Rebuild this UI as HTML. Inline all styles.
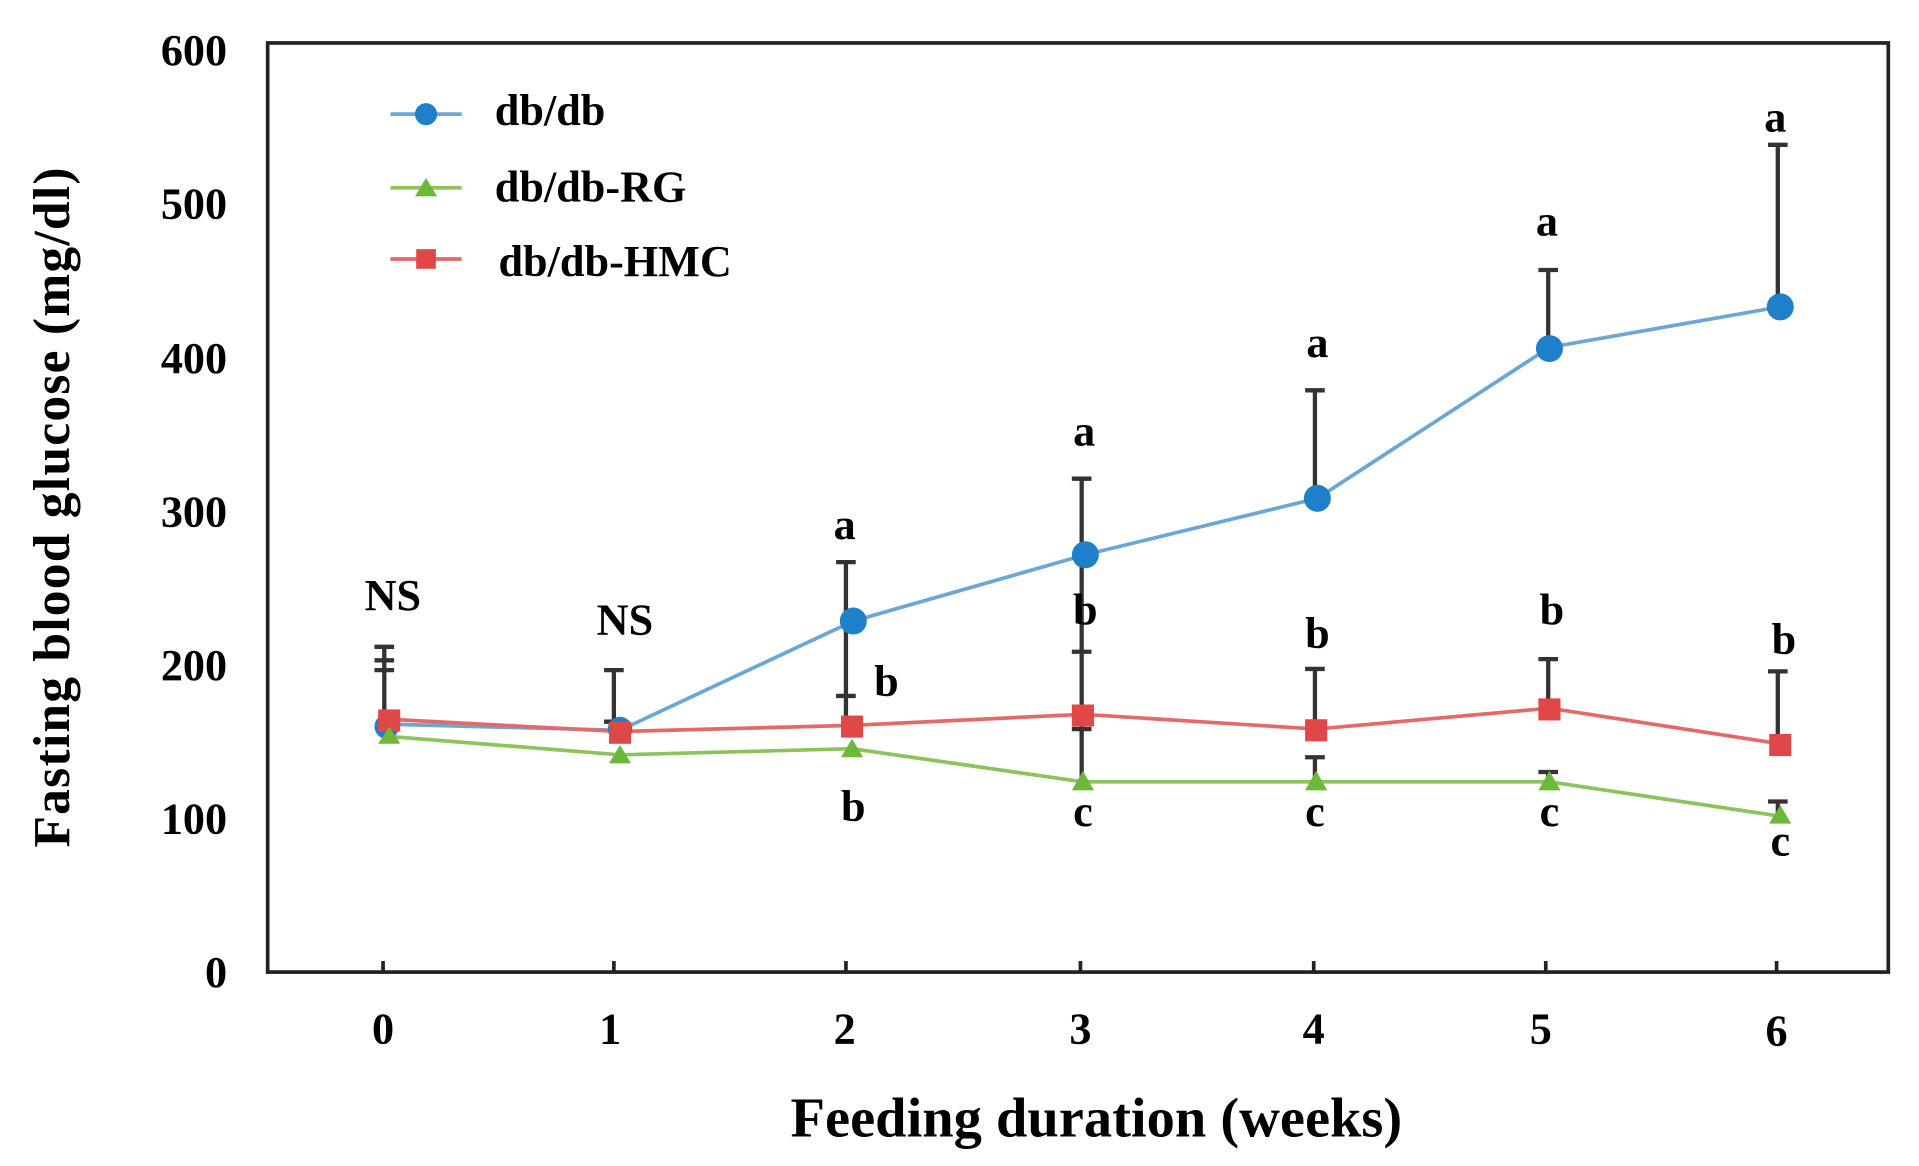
<!DOCTYPE html>
<html><head><style>html,body{margin:0;padding:0;background:#fff;}svg{display:block}</style></head>
<body>
<svg width="1919" height="1166" viewBox="0 0 1563 950" preserveAspectRatio="none" xmlns="http://www.w3.org/2000/svg" font-family="Liberation Serif, serif" font-weight="bold">
<rect x="218" y="35" width="1320" height="757" fill="none" stroke="#222" stroke-width="3"/>
<g font-size="36" text-anchor="end" fill="#000">
<text x="185" y="53" transform="scale(1 1)">600</text><text x="185" y="178">500</text><text x="185" y="304">400</text>
<text x="185" y="429">300</text><text x="185" y="554">200</text><text x="185" y="679">100</text><text x="185" y="804">0</text>
</g>
<g stroke="#222" stroke-width="3">
<line x1="312" y1="792" x2="312" y2="783"/><line x1="500" y1="792" x2="500" y2="783"/><line x1="689" y1="792" x2="689" y2="783"/><line x1="880" y1="792" x2="880" y2="783"/><line x1="1070" y1="792" x2="1070" y2="783"/><line x1="1259" y1="792" x2="1259" y2="783"/><line x1="1447" y1="792" x2="1447" y2="783"/>
</g>
<g font-size="36" text-anchor="middle">
<text x="312" y="850">0</text><text x="497" y="850">1</text><text x="688" y="850">2</text><text x="880" y="850">3</text><text x="1070" y="850">4</text><text x="1255" y="850">5</text><text x="1447" y="852">6</text>
</g>
<text x="893" y="926" font-size="46" text-anchor="middle">Feeding duration (weeks)</text>
<text transform="translate(56,413) rotate(-90)" font-size="42" text-anchor="middle" letter-spacing="1">Fasting blood glucose (mg/dl)</text>
<g stroke="#333" stroke-width="3.5">
<line x1="313" y1="527" x2="313" y2="595"/><line x1="305" y1="527" x2="321" y2="527"/><line x1="305" y1="538" x2="321" y2="538"/><line x1="305" y1="546" x2="321" y2="546"/>
<line x1="500" y1="546" x2="500" y2="595"/><line x1="492" y1="546" x2="508" y2="546"/><line x1="492" y1="588" x2="508" y2="588"/>
<line x1="689" y1="458" x2="689" y2="600"/><line x1="681" y1="458" x2="697" y2="458"/><line x1="681" y1="567" x2="697" y2="567"/>
<line x1="881" y1="390" x2="881" y2="636"/><line x1="873" y1="390" x2="889" y2="390"/><line x1="873" y1="531" x2="889" y2="531"/><line x1="873" y1="594" x2="889" y2="594"/>
<line x1="1071" y1="318" x2="1071" y2="406"/><line x1="1071" y1="545" x2="1071" y2="594"/><line x1="1071" y1="617" x2="1071" y2="637"/><line x1="1063" y1="318" x2="1079" y2="318"/><line x1="1063" y1="545" x2="1079" y2="545"/><line x1="1063" y1="617" x2="1079" y2="617"/>
<line x1="1261" y1="220" x2="1261" y2="283"/><line x1="1261" y1="537" x2="1261" y2="577"/><line x1="1261" y1="629" x2="1261" y2="637"/><line x1="1253" y1="220" x2="1269" y2="220"/><line x1="1253" y1="537" x2="1269" y2="537"/><line x1="1253" y1="629" x2="1269" y2="629"/>
<line x1="1448" y1="118" x2="1448" y2="250"/><line x1="1448" y1="547" x2="1448" y2="606"/><line x1="1448" y1="653" x2="1448" y2="665"/><line x1="1440" y1="118" x2="1456" y2="118"/><line x1="1440" y1="547" x2="1456" y2="547"/><line x1="1440" y1="653" x2="1456" y2="653"/>
</g>
<polyline fill="none" stroke="#6aa6d6" stroke-width="3" points="315,590 505,595 695,506 884,452 1073,406 1262,283 1450,250"/>
<polyline fill="none" stroke="#8cc35a" stroke-width="3" points="317,600 505,615 694,610 882,637 1072,637 1262,637 1450,665"/>
<polyline fill="none" stroke="#e46a6a" stroke-width="3" points="317,586 505,596 694,591 882,582 1072,594 1262,577 1450,606"/>
<g fill="#1f7fc8">
<circle cx="315" cy="592" r="10"/><circle cx="505" cy="594" r="10"/><circle cx="695" cy="506" r="11"/><circle cx="884" cy="452" r="11"/><circle cx="1073" cy="406" r="11"/><circle cx="1262" cy="284" r="11"/><circle cx="1450" cy="250" r="11"/>
</g>
<g fill="#e04848">
<rect x="308" y="578" width="18" height="18"/><rect x="496" y="588" width="18" height="18"/><rect x="685" y="583" width="18" height="18"/><rect x="873" y="574" width="18" height="18"/><rect x="1063" y="586" width="18" height="18"/><rect x="1253" y="569" width="18" height="18"/><rect x="1441" y="598" width="18" height="18"/>
</g>
<g fill="#6cb83a">
<polygon points="317,592 308,606 326,606"/><polygon points="505,607 496,622 514,622"/><polygon points="694,602 685,617 703,617"/><polygon points="882,628 873,644 891,644"/><polygon points="1072,628 1063,644 1081,644"/><polygon points="1262,628 1253,644 1271,644"/><polygon points="1450,656 1441,671 1459,671"/>
</g>
<line x1="318" y1="93" x2="376" y2="93" stroke="#6aa6d6" stroke-width="3"/><circle cx="347" cy="93" r="9" fill="#1f7fc8"/>
<line x1="318" y1="153" x2="376" y2="153" stroke="#8cc35a" stroke-width="3"/><polygon points="347,145 338,160 356,160" fill="#6cb83a"/>
<line x1="318" y1="211" x2="376" y2="211" stroke="#e46a6a" stroke-width="3"/><rect x="339" y="203" width="16" height="16" fill="#e04848"/>
<g font-size="36">
<text x="403" y="102">db/db</text><text x="403" y="164">db/db-RG</text><text x="406" y="225">db/db-HMC</text>
</g>
<g font-size="36" text-anchor="middle">
<text x="320" y="497">NS</text><text x="509" y="517">NS</text>
<text x="688" y="439">a</text><text x="722" y="567">b</text><text x="695" y="669">b</text>
<text x="883" y="363">a</text><text x="884" y="509">b</text><text x="882" y="673">c</text>
<text x="1073" y="291">a</text><text x="1073" y="528">b</text><text x="1071" y="673">c</text>
<text x="1260" y="192">a</text><text x="1264" y="509">b</text><text x="1262" y="673">c</text>
<text x="1446" y="107">a</text><text x="1453" y="533">b</text><text x="1450" y="697">c</text>
</g>
</svg>
</body></html>
